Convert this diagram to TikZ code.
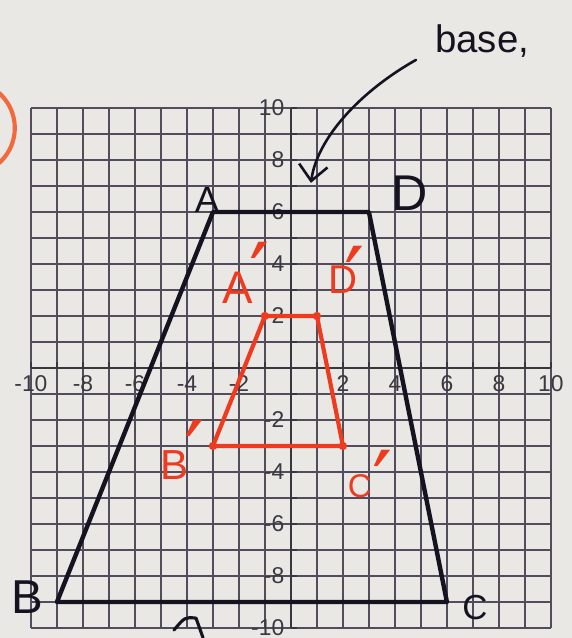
\documentclass[tikz,border=0pt]{standalone}
\usepackage{fontspec}
\setmainfont{Liberation Sans}
\newfontfamily\primefont{DejaVu Sans}
\usetikzlibrary{arrows.meta}
\definecolor{bg}{HTML}{E9E8E4}
\definecolor{gridc}{HTML}{524C5C}
\definecolor{axisc}{HTML}{3A3640}
\definecolor{ink}{HTML}{151320}
\definecolor{redink}{HTML}{EE3B1F}
\definecolor{orangeink}{HTML}{F06A3C}
\definecolor{ticklab}{HTML}{3A3840}
\begin{document}
\begin{tikzpicture}[x=1cm,y=1cm,
  gridline/.style={gridc, line width=0.06cm},
  axisline/.style={axisc, line width=0.09cm},
  ticklabel/.style={text=ticklab, font=\fontsize{25}{28}\selectfont, inner sep=0pt},
  shapeline/.style={ink, line width=0.17cm, line join=round, line cap=round},
  imageline/.style={redink, line width=0.16cm, line join=round, line cap=round},
  vertexdot/.style={circle, fill=redink, minimum size=0.32cm, inner sep=0pt},
  hand/.style={text=ink, inner sep=0pt},
  redhand/.style={text=redink, inner sep=0pt},
  primemark/.style={text=redink, inner sep=0pt, anchor=north, font=\primefont\fontsize{98}{98}\selectfont}]
\useasboundingbox (-11.19,-10.385) rectangle (10.81,14.154);
\clip (-11.19,-10.385) rectangle (10.81,14.154);
\fill[bg] (-11.19,-10.385) rectangle (10.81,14.154);

% grid and axes
\draw[gridline] (-10,-10) grid (10,10);
\draw[axisline] (-10,0) -- (10,0);
\draw[axisline] (0,-10) -- (0,10);
\foreach \i in {-10,...,10} {
  \draw[axisline] (\i,0) -- (\i,0.22);
  \draw[axisline] (0,\i) -- (0.22,\i);
}
\foreach \v in {-10,-8,-6,-4,-2,2,4,6,8,10} {
  \node[ticklabel, anchor=north] (xl\v) at (\v,-0.3) {\v};
  \node[ticklabel, anchor=east] (yl\v) at (-0.25,\v) {\v};
}

% orange circle at left edge
\draw[orangeink, line width=0.16cm] (-12.42,9.23) circle (1.8);

% original trapezoid
\coordinate (A) at (-3,6);
\coordinate (D) at (3,6);
\coordinate (C) at (6,-9);
\coordinate (B) at (-9,-9);
\draw[shapeline] (A) -- (D) -- (C) -- (B) -- cycle;

% image trapezoid
\coordinate (A1) at (-1,2);
\coordinate (D1) at (1,2);
\coordinate (C1) at (2,-3);
\coordinate (B1) at (-3,-3);
\draw[imageline] (A1) -- (D1) -- (C1) -- (B1) -- cycle;
\foreach \p in {A1,D1,C1,B1} { \node[vertexdot] (dot\p) at (\p) {}; }

% black labels
\node[hand, font=\fontsize{40}{44}\selectfont] (labA) at (-3.23,6.46) {A};
\node[hand, font=\fontsize{55}{60}\selectfont] (labD) at (4.58,6.73) {D};
\node[hand, font=\fontsize{52}{56}\selectfont] (labB) at (-10.15,-8.81) {B};
\node[hand, font=\fontsize{38}{42}\selectfont] (labC) at (7.08,-9.2) {C};

% red labels
\node[redhand, font=\fontsize{50}{54}\selectfont] (labA1) at (-2.04,3.08) {A};
\node[primemark] (prA1) at (-1.19,4.85) {′};
\node[redhand, font=\fontsize{44}{50}\selectfont] (labD1) at (2.0,3.38) {D};
\node[primemark] (prD1) at (2.46,4.7) {′};
\node[redhand, font=\fontsize{46}{50}\selectfont] (labB1) at (-4.46,-3.73) {B};
\node[primemark] (prB1) at (-3.69,-2.0) {′};
\node[redhand, font=\fontsize{36}{40}\selectfont] (labC1) at (2.65,-4.54) {C};
\node[primemark] (prC1) at (3.54,-3.15) {′};

% base annotation
\node[hand, anchor=base west, font=\fontsize{42}{46}\selectfont] (base) at (5.54,12.12) {base,};
\coordinate (arrS) at (4.81,11.85);
\coordinate (arrE) at (0.77,7.12);
\draw[ink, line width=0.1cm, line cap=round, -{Straight Barb[length=0.6cm,width=1.1cm]}]
  (arrS) .. controls (2.6,10.6) and (1.0,8.8) .. (arrE);

% stray mark at bottom edge
\coordinate (m1) at (-4.5,-10.08);
\coordinate (m2) at (-4.08,-9.58);
\coordinate (m3) at (-3.65,-9.62);
\coordinate (m4) at (-3.38,-10.38);
\draw[ink, line width=0.12cm, line cap=round, line join=round]
  (m1) .. controls (m2) .. (m3) -- (m4);
\end{tikzpicture}
\end{document}
